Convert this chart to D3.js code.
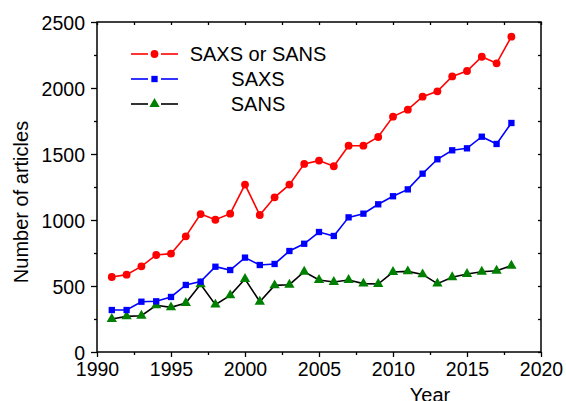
<!DOCTYPE html>
<style>
body { margin: 0; background: #fff; }
text { font-family: "Liberation Sans", Arial, sans-serif; }
.axis .domain { display: none; }
</style>
<svg id="chart" width="566" height="401"></svg>
<script src="https://d3js.org/d3.v7.min.js"></script>
<script>

var years = [1991, 1992, 1993, 1994, 1995, 1996, 1997, 1998, 1999, 2000,
             2001, 2002, 2003, 2004, 2005, 2006, 2007, 2008, 2009, 2010,
             2011, 2012, 2013, 2014, 2015, 2016, 2017, 2018];
var both = [568, 586, 649, 735, 745, 876, 1045, 1002, 1048, 1268,
            1038, 1172, 1268, 1425, 1450, 1407, 1563, 1563, 1629, 1783,
            1836, 1934, 1975, 2088, 2129, 2237, 2187, 2389];
var saxs = [318, 318, 381, 384, 417, 508, 533, 646, 621, 715,
            659, 667, 765, 820, 909, 879, 1020, 1048, 1119, 1180,
            1232, 1351, 1460, 1528, 1543, 1631, 1576, 1735];
var sans = [250, 270, 275, 354, 338, 371, 513, 359, 429, 553,
            381, 505, 510, 608, 546, 530, 545, 518, 515, 606,
            611, 588, 518, 566, 591, 608, 616, 654];
var seriesNames = ["SAXS or SANS", "SAXS", "SANS"];
var xMajor = [1990, 1995, 2000, 2005, 2010, 2015, 2020];
var xMinor = [1992.5, 1997.5, 2002.5, 2007.5, 2012.5, 2017.5];
var yMajor = [0, 500, 1000, 1500, 2000, 2500];
var yMinor = [250, 750, 1250, 1750, 2250];

var svg = d3.select("#chart");
var margin = {top: 22, right: 25, bottom: 49, left: 97};
var width = +svg.attr("width") - margin.left - margin.right;
var height = +svg.attr("height") - margin.top - margin.bottom;
var g = svg.append("g").attr("transform", "translate(" + margin.left + "," + margin.top + ")");

var x = d3.scaleLinear().domain([1990, 2020]).range([0, width]);
var y = d3.scaleLinear().domain([0, 2500]).range([height, 0]);

function styleAxis(sel) {
  sel.selectAll(".tick line").attr("stroke", "#000").attr("stroke-width", 1.3);
  sel.selectAll("text").attr("font-size", 19.5).attr("fill", "#000");
}

// bottom axis, outward ticks
g.append("g").attr("class", "axis").attr("transform", "translate(0," + height + ")")
  .call(d3.axisBottom(x).tickValues(xMajor).tickFormat(d3.format("d")).tickSize(5).tickPadding(5))
  .call(styleAxis);
g.append("g").attr("class", "axis").attr("transform", "translate(0," + height + ")")
  .call(d3.axisBottom(x).tickValues(xMinor).tickFormat("").tickSize(3))
  .call(styleAxis);
// left axis, outward ticks
g.append("g").attr("class", "axis")
  .call(d3.axisLeft(y).tickValues(yMajor).tickFormat(d3.format("d")).tickSize(6).tickPadding(6))
  .call(styleAxis)
  .selectAll("text").attr("dy", "0.36em");
g.append("g").attr("class", "axis")
  .call(d3.axisLeft(y).tickValues(yMinor).tickFormat("").tickSize(3))
  .call(styleAxis);
// top & right mirror, inward ticks
g.append("g").attr("class", "axis")
  .call(d3.axisTop(x).tickValues(xMajor.concat(xMinor)).tickFormat("").tickSize(-3))
  .call(styleAxis);
g.append("g").attr("class", "axis").attr("transform", "translate(" + width + ",0)")
  .call(d3.axisRight(y).tickValues(yMajor.concat(yMinor)).tickFormat("").tickSize(-3))
  .call(styleAxis);

// frame
g.append("rect").attr("width", width).attr("height", height)
  .attr("fill", "none").attr("stroke", "#000").attr("stroke-width", 1.5);

var line = d3.line().x(function(d) { return x(d[0]); }).y(function(d) { return y(d[1]); });

function pairs(vals) { return years.map(function(yr, i) { return [yr, vals[i]]; }); }

var series = [
  {name: seriesNames[0], data: pairs(both), line: "#ff0000", fill: "#ff0000", shape: d3.symbolCircle, size: 48},
  {name: seriesNames[1], data: pairs(saxs), line: "#0000ff", fill: "#0000ff", shape: d3.symbolSquare, size: 40},
  {name: seriesNames[2], data: pairs(sans), line: "#000000", fill: "#008000", shape: d3.symbolTriangle, size: 46}
];

series.slice().reverse().forEach(function(s) {
  g.append("path").datum(s.data)
    .attr("d", line)
    .attr("fill", "none")
    .attr("stroke", s.line)
    .attr("stroke-width", 1.6);
  g.selectAll(null).data(s.data).enter().append("path")
    .attr("transform", function(d) { return "translate(" + x(d[0]) + "," + y(d[1]) + ")"; })
    .attr("d", d3.symbol().type(s.shape).size(s.size))
    .attr("fill", s.fill);
});

// legend
var legend = svg.append("g");
series.forEach(function(s, i) {
  var ly = 54 + i * 25;
  legend.append("line").attr("x1", 131).attr("x2", 148).attr("y1", ly).attr("y2", ly)
    .attr("stroke", s.line).attr("stroke-width", 1.6);
  legend.append("line").attr("x1", 161).attr("x2", 178).attr("y1", ly).attr("y2", ly)
    .attr("stroke", s.line).attr("stroke-width", 1.6);
  legend.append("path").attr("transform", "translate(154.5," + ly + ")")
    .attr("d", d3.symbol().type(s.shape).size(s.size)).attr("fill", s.fill);
  legend.append("text").attr("x", 258).attr("y", ly).attr("dy", "0.36em")
    .attr("text-anchor", "middle").attr("font-size", 20).text(s.name);
});

// axis titles
svg.append("text")
  .attr("transform", "translate(28," + (margin.top + height / 2 + 15) + ") rotate(-90)")
  .attr("text-anchor", "middle").attr("font-size", 20).text("Number of articles");
svg.append("text").attr("x", 430).attr("y", 402)
  .attr("text-anchor", "middle").attr("font-size", 20).text("Year");

</script>
